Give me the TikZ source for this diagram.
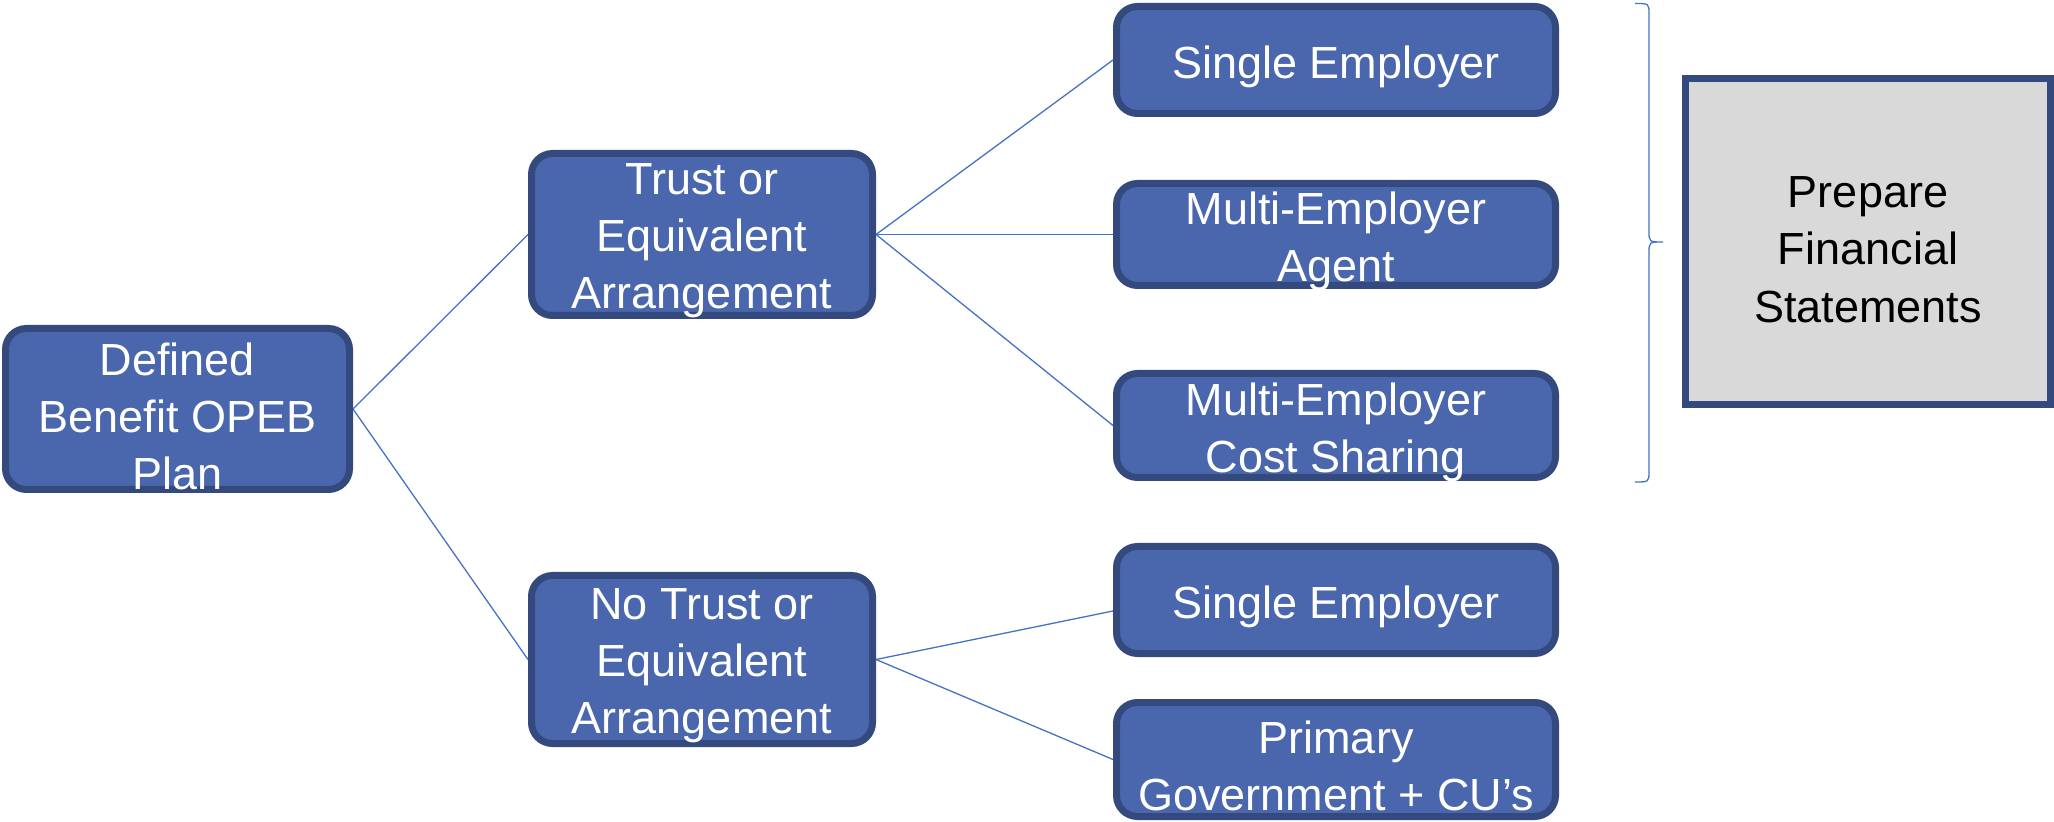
\documentclass[tikz,border=0pt]{standalone}
\usepackage{fontspec}
\setmainfont{Liberation Sans}
\usetikzlibrary{backgrounds}
\definecolor{boxfill}{HTML}{4A67AD}
\definecolor{boxline}{HTML}{344A7E}
\definecolor{linkblue}{HTML}{4472C4}
\definecolor{panelgray}{HTML}{D9D9D9}
\begin{document}
\begin{tikzpicture}[x=0.5pt,y=-0.5pt,
  bluebox/.style={draw=boxline, fill=boxfill, line width=3.5pt, rounded corners=10.5pt, inner sep=0pt},
  graybox/.style={draw=boxline, fill=panelgray, line width=3.5pt, inner sep=0pt},
  boxtext/.style={text=white, font=\fontsize{22.5}{28.5}\selectfont, align=center, inner sep=0pt},
  paneltext/.style={text=black, font=\fontsize{22.5}{28.7}\selectfont, align=center, inner sep=0pt},
  link/.style={draw=linkblue, line width=0.65pt}]
\useasboundingbox (0,0) rectangle (2054,822);

% root
\node[bluebox, minimum width=172pt, minimum height=80.5pt] (plan) at (177.5,409) {};
\node[boxtext] (plan-t) at ([yshift=-3.8pt]plan.center) {Defined\\Benefit OPEB\\Plan};

% second level
\node[bluebox, minimum width=170.5pt, minimum height=81pt] (trust) at (702,234.5) {};
\node[boxtext] (trust-t) at ([yshift=-3.2pt]trust.center) {Trust or\\Equivalent\\Arrangement};
\node[bluebox, minimum width=170.5pt, minimum height=84pt] (notrust) at (702,659.5) {};
\node[boxtext] (notrust-t) at ([yshift=-3.3pt]notrust.center) {No Trust or\\Equivalent\\Arrangement};

% plan types with a trust
\node[bluebox, minimum width=219.5pt, minimum height=53.5pt] (single) at (1336,60) {};
\node[boxtext] (single-t) at ([yshift=-3.6pt]single.center) {Single Employer};
\node[bluebox, minimum width=219.5pt, minimum height=51pt] (agent) at (1336,234.5) {};
\node[boxtext] (agent-t) at ([yshift=-3.6pt]agent.center) {Multi-Employer\\Agent};
\node[bluebox, minimum width=219.5pt, minimum height=52pt] (cost) at (1336,425.5) {};
\node[boxtext] (cost-t) at ([yshift=-3.4pt]cost.center) {Multi-Employer\\Cost Sharing};

% plan types without a trust
\node[bluebox, minimum width=219.5pt, minimum height=53.5pt] (single2) at (1336,600) {};
\node[boxtext] (single2-t) at ([yshift=-3.6pt]single2.center) {Single Employer};
\node[bluebox, minimum width=219.5pt, minimum height=57pt] (primary) at (1336,759.5) {};
\node[boxtext] (primary-t) at ([yshift=-3.1pt]primary.center) {Primary\\Government + CU’s};

% outcome panel
\node[graybox, minimum width=182.5pt, minimum height=163pt] (fin) at (1868,241.5) {};
\node[paneltext] (fin-t) at ([yshift=-4.1pt]fin.center) {Prepare\\Financial\\Statements};

% connectors behind the boxes
\begin{scope}[on background layer]
\draw[link] (plan.east) -- (trust.west);
\draw[link] (plan.east) -- (notrust.west);
\draw[link] (trust.east) -- (single.west);
\draw[link] (trust.east) -- (agent.west);
\draw[link] (trust.east) -- (cost.west);
\draw[link] (notrust.east) -- ([yshift=-5.5pt]single2.west);
\draw[link] (notrust.east) -- (primary.west);
\end{scope}

% brace grouping the trust plan types
\coordinate (brace-tip) at (1663,242);
\draw[link] (1635,3.5) .. controls (1649,3.5) .. (1649,14) -- (1649,231)
  .. controls (1649,242) .. (brace-tip)
  .. controls (1649,242) .. (1649,253) -- (1649,471)
  .. controls (1649,482) .. (1635,482);
\end{tikzpicture}
\end{document}
